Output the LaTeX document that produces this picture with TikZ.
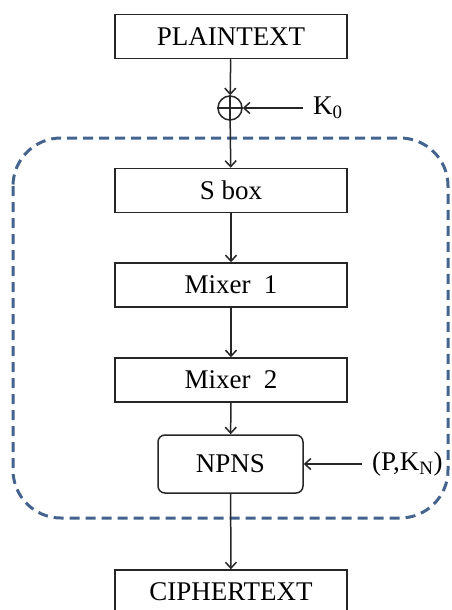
\documentclass[tikz,border=0pt]{standalone}
\usepackage{fontspec}
\setmainfont{Liberation Serif}
\usetikzlibrary{arrows.meta}
\definecolor{frameblue}{HTML}{44648E}
\tikzset{
        every node/.style={font=\fontsize{27}{32}\selectfont},
        stage/.style={draw=black!85, line width=1.5pt, minimum width=232pt, minimum height=44pt, inner sep=0pt},
        roundstage/.style={draw=black!85, line width=1.5pt, rounded corners=7pt, minimum width=145pt, minimum height=58pt, inner sep=0pt},
        xorop/.style={circle, draw=black!85, line width=1.5pt, minimum size=24pt, inner sep=0pt},
        keylabel/.style={inner sep=0pt, anchor=west},
        flow/.style={draw=black!85, line width=1.5pt, -{Straight Barb[length=6pt,width=11pt]}},
        roundframe/.style={draw=frameblue, line width=3pt, dash pattern=on 10pt off 6pt, rounded corners=48pt}
          }

\begin{document}
\begin{tikzpicture}[x=1pt, y=-1pt]
            \useasboundingbox (0,0) rectangle (452,610);
            % round frame
            \draw[roundframe] (13,138) rectangle (448,518);
            \node[stage] (plain) at (231,36.5) {PLAINTEXT};
            \node[xorop] (xor) at (230,108) {};
            \draw[line width=1.5pt, draw=black!85] (xor.north) -- (xor.south) (xor.west) -- (xor.east);
            \node[keylabel] (k0) at (313,108) {K\textsubscript{0}};
            \node[stage] (sbox) at (231,190.5) {S box};
            \node[stage] (mix1) at (231,285) {Mixer\ \ 1};
            \node[stage] (mix2) at (231,380) {Mixer\ \ 2};
            \node[roundstage] (npns) at (230.5,464) {NPNS};
            \node[keylabel] (pkn) at (372,464) {(P,K\textsubscript{N})};
            \node[stage] (cipher) at (231,592) {CIPHERTEXT};
            % connectors
            \draw[flow] (plain) -- (xor);
            \draw[flow, shorten <=10pt] (k0.west) -- (xor.east);
            \draw[flow] (xor) -- (sbox);
            \draw[flow] (sbox) -- (mix1);
            \draw[flow] (mix1) -- (mix2);
            \draw[flow] (mix2) -- (npns);
            \draw[flow, shorten <=10pt] (pkn.west) -- (npns.east);
            \draw[flow] (npns) -- (cipher);
          \end{tikzpicture}
\end{document}
